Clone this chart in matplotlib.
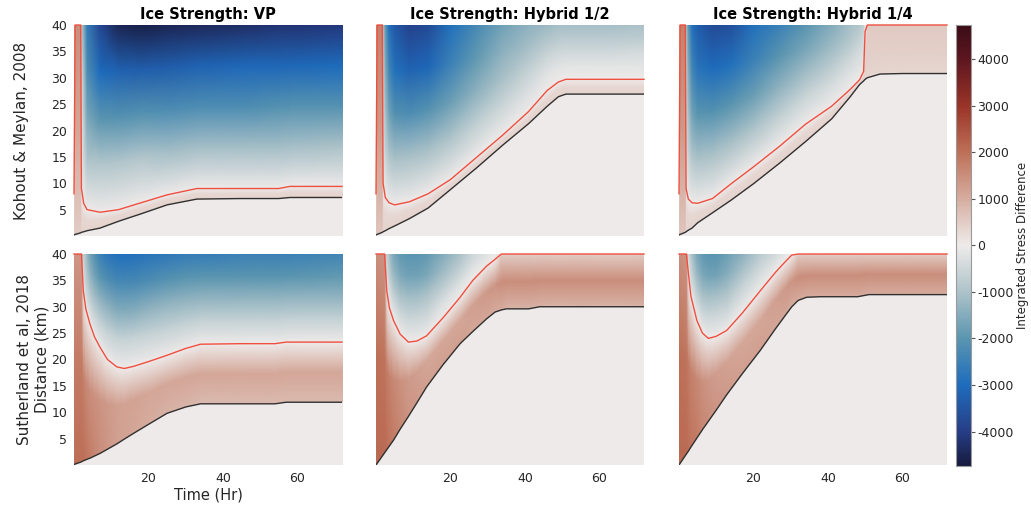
import numpy as np
import matplotlib
matplotlib.use("Agg")
import matplotlib.pyplot as plt
from matplotlib.colors import LinearSegmentedColormap, Normalize
from matplotlib.cm import ScalarMappable

plt.rcParams["font.family"] = "DejaVu Sans"
plt.rcParams["axes.unicode_minus"] = False

VMAX = 4730
D_TOP = 40.0
T_END = 72.0

# diverging colour scale (blue - near white - brown)
CMAP_VALUES = [-4730, -4000, -3000, -2000, -1000, 0, 1000, 2000, 3000, 4000, 4730]
CMAP_COLORS = ["#171b3e", "#273e88", "#1e6dbd", "#5b96b0", "#aec3c9", "#eeebea",
               "#d6ada0", "#be7058", "#9a3428", "#5e1620", "#3b0d16"]

COL_TITLES = ["Ice Strength: VP", "Ice Strength: Hybrid 1/2", "Ice Strength: Hybrid 1/4"]
ROW_LABELS = ["Kohout & Meylan, 2008", "Sutherland et al, 2018\nDistance (km)"]
X_TICKS = [20, 40, 60]
Y_TICKS = [5, 10, 15, 20, 25, 30, 35, 40]
CB_TICKS = [-4000, -3000, -2000, -1000, 0, 1000, 2000, 3000, 4000]

# each panel: time knots (hr), black and red contour distance (km) and the
# field at each knot: [above black, mid band, at red, 1/4, 1/2, 3/4 up, top]

# --- Kohout & Meylan, VP
KM_VP_TIME = [0, 0.3, 1.8, 2.0, 2.6, 3.5, 7, 12, 18, 25, 33, 45, 55, 58, 72]
KM_VP_BLACK = [0.2, 0.3, 0.6, 0.7, 0.8, 1.0, 1.5, 2.8, 4.2, 5.9, 7.0, 7.1, 7.1, 7.3, 7.3]
KM_VP_RED = [8, 40, 40, 9.0, 6.2, 5.0, 4.5, 5.0, 6.3, 7.8, 9.0, 9.0, 9.0, 9.4, 9.4]
KM_VP_FIELD = [
    [500, 400, 0, 200, 400, 600, 800],
    [500, 1100, 1500, 1500, 1500, 1500, 1500],
    [500, 1100, 1500, 1500, 1500, 1500, 1500],
    [400, 300, 0, -200, -400, -600, -900],
    [400, 300, 0, -500, -800, -1100, -1500],
    [400, 300, 0, -900, -1600, -2200, -2600],
    [400, 300, 0, -900, -2000, -3000, -3800],
    [400, 300, 0, -900, -2100, -3200, -4500],
    [400, 300, 0, -900, -2100, -3300, -4600],
    [400, 300, 0, -1100, -2200, -3300, -4500],
    [400, 300, 0, -1100, -2200, -3200, -4400],
    [400, 300, 0, -1100, -2200, -3100, -4300],
    [400, 300, 0, -1100, -2100, -3100, -4200],
    [400, 300, 0, -1100, -2100, -3100, -4200],
    [400, 300, 0, -1000, -2100, -3000, -4100],
]

# --- Kohout & Meylan, Hybrid 1/2
KM_H2_TIME = [0, 0.3, 1.7, 1.9, 2.5, 3.5, 5, 9, 14, 20, 27, 34, 41, 46, 49, 51, 60, 72]
KM_H2_BLACK = [0.2, 0.3, 0.7, 0.8, 1.0, 1.4, 1.9, 3.3, 5.3, 8.8, 12.9, 17.2, 21.3, 24.6,
               26.4, 26.9, 26.9, 26.9]
KM_H2_RED = [8, 40, 40, 10, 7.3, 6.3, 5.9, 6.5, 8.0, 10.7, 14.9, 19.1, 23.6, 27.6, 29.2,
             29.7, 29.7, 29.7]
KM_H2_FIELD = [
    [600, 400, 0, 200, 400, 600, 800],
    [600, 1300, 1700, 1700, 1700, 1700, 1700],
    [600, 1300, 1700, 1700, 1700, 1700, 1700],
    [400, 300, 0, -300, -500, -700, -1000],
    [400, 300, 0, -600, -1100, -1500, -1900],
    [400, 300, 0, -900, -1700, -2400, -2900],
    [400, 300, 0, -1000, -2100, -2900, -3400],
    [400, 300, 0, -1000, -2200, -3200, -3900],
    [400, 300, 0, -1000, -2100, -3100, -3700],
    [400, 300, 0, -900, -1800, -2500, -2900],
    [400, 300, 0, -700, -1400, -1900, -2300],
    [400, 300, 0, -500, -1000, -1400, -1700],
    [400, 300, 0, -300, -700, -1100, -1400],
    [400, 300, 0, -200, -500, -850, -1200],
    [400, 300, 0, -150, -450, -800, -1100],
    [400, 300, 0, -150, -450, -800, -1100],
    [400, 300, 0, -150, -450, -800, -1100],
    [400, 300, 0, -150, -400, -750, -1000],
]

# --- Kohout & Meylan, Hybrid 1/4
KM_H4_TIME = [0, 0.3, 1.7, 1.9, 2.5, 3.5, 5, 9, 14, 20, 27, 34, 41, 46, 48.5, 49.6, 50.0,
              50.6, 54, 60, 72]
KM_H4_BLACK = [0.2, 0.3, 0.7, 0.8, 1.1, 1.5, 2.5, 4.4, 6.8, 9.9, 13.8, 17.9, 22.2, 26.4,
               28.7, 29.4, 29.7, 30.0, 30.7, 30.8, 30.8]
KM_H4_RED = [8, 40, 40, 9.0, 7.0, 6.3, 6.2, 7.1, 9.9, 13.1, 17.0, 21.2, 24.6, 27.8, 29.6,
             31.2, 38.8, 40, 40, 40, 40]
KM_H4_FIELD = [
    [600, 400, 0, 200, 400, 600, 800],
    [600, 1300, 1700, 1700, 1700, 1700, 1700],
    [600, 1300, 1700, 1700, 1700, 1700, 1700],
    [400, 300, 0, -300, -500, -700, -1000],
    [400, 300, 0, -600, -1100, -1500, -1900],
    [400, 300, 0, -900, -1700, -2400, -2900],
    [400, 300, 0, -1000, -2000, -2800, -3300],
    [400, 300, 0, -1000, -2100, -3000, -3700],
    [400, 300, 0, -1000, -2000, -2900, -3600],
    [400, 300, 0, -900, -1800, -2500, -2900],
    [400, 300, 0, -700, -1400, -2000, -2500],
    [400, 300, 0, -500, -1100, -1600, -2000],
    [400, 300, 0, -350, -800, -1200, -1500],
    [400, 300, 0, -250, -550, -850, -1100],
    [400, 300, 0, -200, -400, -650, -900],
    [400, 300, 0, -150, -300, -500, -700],
    [400, 400, 0, -50, -50, -50, -50],
    [350, 450, 550, 550, 550, 550, 550],
    [350, 450, 550, 550, 550, 550, 550],
    [350, 450, 550, 550, 550, 550, 550],
    [350, 450, 550, 550, 550, 550, 550],
]

# --- Sutherland et al, VP
SU_VP_TIME = [0, 2.0, 2.5, 3.2, 4.3, 5.5, 7, 9, 11.5, 13.5, 16, 20, 25, 30, 34, 45, 54,
              57, 72]
SU_VP_BLACK = [0.1, 0.6, 0.8, 1.0, 1.3, 1.7, 2.2, 3.0, 4.0, 4.9, 6.0, 7.7, 9.8, 11.0, 11.6,
               11.6, 11.6, 11.9, 11.9]
SU_VP_RED = [40, 40, 33, 29.5, 26.7, 24.3, 22.3, 20.0, 18.6, 18.3, 18.7, 19.6, 20.8, 22.1,
             22.9, 23.0, 23.0, 23.3, 23.3]
SU_VP_FIELD = [
    [2000, 1800, 1400, 1400, 1400, 1400, 1400],
    [2000, 1800, 1400, 1400, 1400, 1400, 1400],
    [2000, 1700, 0, -200, -400, -500, -600],
    [1900, 1600, 0, -400, -700, -900, -1100],
    [1800, 1500, 0, -500, -1000, -1400, -1700],
    [1650, 1450, 0, -550, -1150, -1700, -2100],
    [1500, 1400, 0, -600, -1300, -2000, -2500],
    [1350, 1300, 0, -600, -1400, -2150, -2750],
    [1200, 1200, 0, -600, -1500, -2300, -2900],
    [1150, 1150, 0, -600, -1500, -2300, -2950],
    [1100, 1150, 0, -600, -1500, -2300, -2900],
    [1000, 1100, 0, -600, -1400, -2200, -2800],
    [900, 1100, 0, -600, -1300, -2100, -2700],
    [850, 1100, 0, -600, -1300, -2000, -2600],
    [800, 1100, 0, -600, -1300, -2000, -2600],
    [800, 1100, 0, -600, -1300, -2000, -2500],
    [800, 1100, 0, -600, -1300, -2000, -2500],
    [800, 1100, 0, -600, -1300, -2000, -2500],
    [800, 1100, 0, -600, -1300, -1900, -2400],
]

# --- Sutherland et al, Hybrid 1/2
SU_H2_TIME = [0, 2.3, 2.9, 3.6, 4.7, 6.5, 8.7, 11, 13.6, 18, 22.6, 26, 29.7, 32, 33.7, 35,
              41, 44, 55, 72]
SU_H2_BLACK = [0, 2.3, 2.9, 3.6, 4.7, 6.8, 9.2, 11.8, 14.8, 19.0, 23.0, 25.3, 27.7, 29.0,
               29.4, 29.6, 29.6, 30.0, 30.0, 30.0]
SU_H2_RED = [40, 40, 33, 29.8, 27.4, 24.8, 23.3, 23.5, 24.5, 27.9, 31.8, 35.0, 37.7, 39.0,
             40, 40, 40, 40, 40, 40]
SU_H2_FIELD = [
    [2100, 2000, 1500, 1500, 1500, 1500, 1500],
    [2100, 1900, 1400, 1400, 1400, 1400, 1400],
    [2000, 1800, 0, -200, -400, -500, -600],
    [1900, 1700, 0, -300, -600, -900, -1100],
    [1800, 1600, 0, -400, -900, -1300, -1600],
    [1600, 1450, 0, -500, -1100, -1600, -1900],
    [1400, 1300, 0, -500, -1100, -1700, -2000],
    [1300, 1200, 0, -500, -1100, -1700, -2000],
    [1200, 1100, 0, -500, -1000, -1600, -1900],
    [1200, 1100, 0, -300, -800, -1200, -1500],
    [1200, 1100, 0, -200, -500, -800, -1000],
    [1100, 1200, 0, -100, -250, -400, -500],
    [1100, 1300, 0, -50, -100, -150, -200],
    [1000, 1400, 0, 0, 0, 0, 0],
    [1000, 1500, 500, 500, 500, 500, 500],
    [900, 1500, 500, 500, 500, 500, 500],
    [900, 1500, 500, 500, 500, 500, 500],
    [900, 1500, 500, 500, 500, 500, 500],
    [900, 1500, 500, 500, 500, 500, 500],
    [900, 1500, 500, 500, 500, 500, 500],
]

# --- Sutherland et al, Hybrid 1/4
SU_H4_TIME = [0, 2.0, 2.5, 3.2, 4.8, 6.3, 7.9, 10, 12.8, 17, 21.8, 26, 28.5, 30.3, 32, 34.3,
              38, 48, 51, 72]
SU_H4_BLACK = [0, 2.1, 2.6, 3.4, 5.1, 6.7, 8.3, 10.4, 13.3, 17.3, 21.7, 25.9, 28.3, 30.0,
               31.2, 31.8, 31.9, 31.9, 32.3, 32.3]
SU_H4_RED = [40, 40, 36.5, 32.0, 27.4, 25.0, 24.0, 24.4, 25.5, 28.8, 33.0, 36.6, 38.5, 39.8,
             40, 40, 40, 40, 40, 40]
SU_H4_FIELD = [
    [2100, 2000, 1500, 1500, 1500, 1500, 1500],
    [2100, 1900, 1400, 1400, 1400, 1400, 1400],
    [2000, 1800, 0, -100, -200, -300, -400],
    [1900, 1700, 0, -300, -500, -700, -900],
    [1800, 1600, 0, -400, -900, -1300, -1600],
    [1600, 1450, 0, -500, -1100, -1600, -1900],
    [1500, 1350, 0, -500, -1100, -1700, -2000],
    [1400, 1250, 0, -500, -1100, -1700, -2000],
    [1300, 1150, 0, -500, -1000, -1500, -1800],
    [1200, 1100, 0, -300, -700, -1100, -1400],
    [1200, 1100, 0, -200, -400, -600, -800],
    [1100, 1200, 0, -100, -200, -300, -400],
    [1100, 1300, 0, -50, -50, -100, -100],
    [1000, 1400, 0, 0, 0, 0, 0],
    [1000, 1500, 500, 500, 500, 500, 500],
    [1000, 1500, 500, 500, 500, 500, 500],
    [1000, 1500, 500, 500, 500, 500, 500],
    [1000, 1500, 500, 500, 500, 500, 500],
    [1000, 1500, 500, 500, 500, 500, 500],
    [1000, 1500, 500, 500, 500, 500, 500],
]

PANELS = [
    [(KM_VP_TIME, KM_VP_BLACK, KM_VP_RED, KM_VP_FIELD),
     (KM_H2_TIME, KM_H2_BLACK, KM_H2_RED, KM_H2_FIELD),
     (KM_H4_TIME, KM_H4_BLACK, KM_H4_RED, KM_H4_FIELD)],
    [(SU_VP_TIME, SU_VP_BLACK, SU_VP_RED, SU_VP_FIELD),
     (SU_H2_TIME, SU_H2_BLACK, SU_H2_RED, SU_H2_FIELD),
     (SU_H4_TIME, SU_H4_BLACK, SU_H4_RED, SU_H4_FIELD)],
]

cmap = LinearSegmentedColormap.from_list(
    "stressdiff",
    list(zip((np.array(CMAP_VALUES) + VMAX) / (2 * VMAX), CMAP_COLORS)))
norm = Normalize(vmin=-VMAX, vmax=VMAX)
TEXT = "#262626"

W, H = 1031, 508
lefts = [74, 376, 679]
tops = [25, 254]
aw, ah = 268, 211
SS = 4  # supersampling of the shaded field


def field_mesh(time, black, red, field):
    t = np.asarray(time, float)
    black = np.asarray(black, float)
    red = np.asarray(red, float)
    lo, mid, at_red, q1, q2, q3, top = np.asarray(field, float).T
    span = D_TOP - red
    zero = np.zeros_like(t)
    # mesh rows follow the contours so the jump at the black line stays sharp
    rows_d = [zero, black, black, (black + red) / 2, red,
              red + 0.25 * span, red + 0.5 * span, red + 0.75 * span, zero + D_TOP]
    rows_v = [zero, zero, lo, mid, at_red, q1, q2, q3, top]
    Y = np.vstack(rows_d)
    X = np.tile(t, (len(rows_d), 1))
    return X, Y, np.vstack(rows_v)


def shaded_field(X, Y, C):
    # gouraud mesh drawn on a larger canvas, then averaged down to panel pixels
    f = plt.figure(figsize=(aw * SS / 100, ah * SS / 100), dpi=100)
    a = f.add_axes([0, 0, 1, 1])
    a.set_axis_off()
    a.pcolormesh(X, Y, C, shading="gouraud", cmap=cmap, norm=norm)
    a.set_xlim(0, T_END)
    a.set_ylim(0, D_TOP)
    f.canvas.draw()
    img = np.asarray(f.canvas.buffer_rgba())[..., :3].astype(float) / 255
    plt.close(f)
    h, w = img.shape[0] // SS, img.shape[1] // SS
    return img[:h * SS, :w * SS].reshape(h, SS, w, SS, 3).mean(axis=(1, 3))


fig = plt.figure(figsize=(W / 100, H / 100), dpi=100)

for r in range(2):
    for c in range(3):
        ax = fig.add_axes([lefts[c] / W, 1 - (tops[r] + ah) / H, aw / W, ah / H])
        time, black, red, field = PANELS[r][c]
        X, Y, C = field_mesh(time, black, red, field)
        ax.imshow(shaded_field(X, Y, C), extent=(0, T_END, 0, D_TOP), aspect="auto",
                  interpolation="nearest")
        ax.plot(time, black, color="#303030", lw=1.0)
        ax.plot(time, red, color="#ef4f3f", lw=1.0, clip_on=False)
        ax.set_xlim(0, T_END)
        ax.set_ylim(0, D_TOP)
        for s in ax.spines.values():
            s.set_visible(False)
        ax.tick_params(length=0, labelsize=9, colors=TEXT, pad=5)
        ax.set_xticks(X_TICKS)
        ax.set_yticks(Y_TICKS)
        if r == 0:
            ax.set_xticklabels([])
            ax.set_title(COL_TITLES[c], fontsize=10.5, fontweight="bold", pad=4)
        if c > 0:
            ax.set_yticklabels([])
        else:
            ax.set_ylabel(ROW_LABELS[r], fontsize=11, color=TEXT)
            ax.yaxis.set_label_coords([-0.168, -0.093][r], 0.5)
        if r == 1 and c == 0:
            ax.set_xlabel("Time (Hr)", fontsize=10.5, color=TEXT, labelpad=2)

cax = fig.add_axes([955.5 / W, 1 - 465.5 / H, 15.5 / W, 440.5 / H])
cb = fig.colorbar(ScalarMappable(norm=norm, cmap=cmap), cax=cax, ticks=CB_TICKS)
cb.outline.set_edgecolor("#9a9a9a")
cb.outline.set_linewidth(0.8)
cax.tick_params(length=3, width=0.8, pad=1.5, colors="#555555", labelsize=9,
                labelcolor=TEXT)
cb.set_label("Integrated Stress Difference", fontsize=8.5, color=TEXT)
cax.yaxis.set_label_coords((1016 - 955.5) / 15.5, 0.5)

fig.savefig("out.png", dpi=100)
